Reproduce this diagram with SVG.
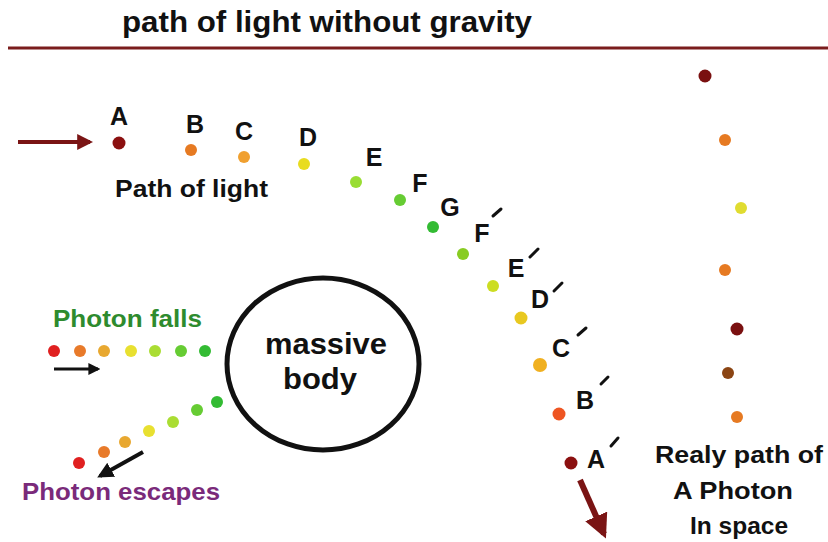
<svg xmlns="http://www.w3.org/2000/svg" width="828" height="542" viewBox="0 0 828 542">
<style>
text{font-family:"Liberation Sans",Arial,sans-serif;fill:#111}
.lbl{font-size:25px;font-weight:bold;text-anchor:middle}
.prime{stroke:#111;stroke-width:3;stroke-linecap:round}
.txt{font-size:24px;font-weight:bold}
.mid{text-anchor:middle}
</style>
<defs>
<marker id="hdR" viewBox="0 0 10 10" refX="8" refY="5" markerWidth="4" markerHeight="4" orient="auto"><path d="M0,0 L10,5 L0,10 z" fill="#7a1414"/></marker>
<marker id="hdK" viewBox="0 0 10 10" refX="8" refY="5" markerWidth="4" markerHeight="4" orient="auto"><path d="M0,0 L10,5 L0,10 z" fill="#111"/></marker>
</defs>
<rect width="828" height="542" fill="#fff"/>
<g id="title">
<text x="122" y="32" font-size="29" font-weight="bold" textLength="410" lengthAdjust="spacingAndGlyphs">path of light without gravity</text>
<line x1="8" y1="48" x2="828" y2="48" stroke="#7a1c1c" stroke-width="3"/>
</g>
<g id="connectors">
<line x1="18" y1="142" x2="90" y2="142" stroke="#7a1414" stroke-width="4" marker-end="url(#hdR)"/>
<line x1="580" y1="480" x2="604" y2="534" stroke="#7a1414" stroke-width="6" marker-end="url(#hdR)"/>
<line x1="54" y1="369" x2="98" y2="369" stroke="#111" stroke-width="3" marker-end="url(#hdK)"/>
<line x1="143" y1="452" x2="100" y2="476" stroke="#111" stroke-width="4" marker-end="url(#hdK)"/>
</g>
<g id="path-of-light">
<text class="txt" x="115" y="197" textLength="153" lengthAdjust="spacingAndGlyphs">Path of light</text>
<g id="pA"><circle cx="119" cy="143" r="6.5" fill="#8b1010"/><text class="lbl" x="119" y="125">A</text></g>
<g id="pB"><circle cx="191" cy="150" r="6" fill="#e67a22"/><text class="lbl" x="195" y="133">B</text></g>
<g id="pC"><circle cx="244" cy="157" r="6" fill="#f0a030"/><text class="lbl" x="244" y="140">C</text></g>
<g id="pD"><circle cx="304" cy="164" r="6" fill="#e8dc20"/><text class="lbl" x="308" y="146">D</text></g>
<g id="pE"><circle cx="356" cy="182" r="6" fill="#99dd33"/><text class="lbl" x="374" y="166">E</text></g>
<g id="pF"><circle cx="400" cy="200" r="6" fill="#66cc33"/><text class="lbl" x="420" y="192">F</text></g>
<g id="pG"><circle cx="433" cy="227" r="6" fill="#33bb33"/><text class="lbl" x="450" y="216">G</text></g>
<g id="pF2"><circle cx="463" cy="254" r="6" fill="#88cc22"/><text class="lbl" x="482" y="242">F</text><line class="prime" x1="493" y1="216" x2="501" y2="209"/></g>
<g id="pE2"><circle cx="493" cy="286" r="6" fill="#ccdd22"/><text class="lbl" x="516" y="277">E</text><line class="prime" x1="530" y1="257" x2="538" y2="249"/></g>
<g id="pD2"><circle cx="521" cy="318" r="6.5" fill="#e8c820"/><text class="lbl" x="540" y="308">D</text><line class="prime" x1="554" y1="291" x2="562" y2="283"/></g>
<g id="pC2"><circle cx="540" cy="365" r="7" fill="#f0b020"/><text class="lbl" x="561" y="357">C</text><line class="prime" x1="578" y1="335" x2="586" y2="328"/></g>
<g id="pB2"><circle cx="559" cy="414" r="6.5" fill="#ee5522"/><text class="lbl" x="585" y="409">B</text><line class="prime" x1="601" y1="384" x2="608" y2="377"/></g>
<g id="pA2"><circle cx="571" cy="463" r="6.5" fill="#8b1010"/><text class="lbl" x="596" y="468">A</text><line class="prime" x1="611" y1="446" x2="618" y2="438"/></g>
</g>
<g id="massive-body">
<ellipse cx="323" cy="364" rx="96" ry="86" fill="none" stroke="#111" stroke-width="5"/>
<text x="326" y="354" font-size="29" font-weight="bold" class="mid" textLength="122" lengthAdjust="spacingAndGlyphs">massive</text>
<text x="320" y="389" font-size="29" font-weight="bold" class="mid" textLength="74" lengthAdjust="spacingAndGlyphs">body</text>
</g>
<g id="photon-falls">
<text class="txt" x="53" y="327" style="fill:#2e8b2e" textLength="149" lengthAdjust="spacingAndGlyphs">Photon falls</text>
<circle cx="54" cy="351" r="6" fill="#e02020"/>
<circle cx="80" cy="351" r="6" fill="#e87a2a"/>
<circle cx="104" cy="351" r="6" fill="#e8a830"/>
<circle cx="131" cy="351" r="6" fill="#e8e030"/>
<circle cx="155" cy="351" r="6" fill="#aadd33"/>
<circle cx="181" cy="351" r="6" fill="#66cc33"/>
<circle cx="205" cy="351" r="6" fill="#33bb33"/>
</g>
<g id="photon-escapes">
<circle cx="79" cy="463" r="6" fill="#e02020"/>
<circle cx="104" cy="452" r="6" fill="#e87a2a"/>
<circle cx="125" cy="442" r="6" fill="#e8a830"/>
<circle cx="149" cy="431" r="6" fill="#e8e030"/>
<circle cx="173" cy="422" r="6" fill="#aadd33"/>
<circle cx="197" cy="410" r="6" fill="#66cc33"/>
<circle cx="217" cy="402" r="6" fill="#33bb33"/>
<text class="txt" x="22" y="500" style="fill:#7a2a7a" textLength="198" lengthAdjust="spacingAndGlyphs">Photon escapes</text>
</g>
<g id="real-path">
<circle cx="705" cy="76" r="6.5" fill="#7a1010"/>
<circle cx="725" cy="140" r="6" fill="#e67a22"/>
<circle cx="741" cy="208" r="6" fill="#e0dc30"/>
<circle cx="725" cy="270" r="6" fill="#e67a22"/>
<circle cx="737" cy="329" r="6.5" fill="#7a1010"/>
<circle cx="728" cy="373" r="6" fill="#8b4513"/>
<circle cx="737" cy="417" r="6" fill="#e67a22"/>
<text class="txt mid" x="739" y="463" textLength="168" lengthAdjust="spacingAndGlyphs">Realy path of</text>
<text class="txt mid" x="733" y="499" textLength="120" lengthAdjust="spacingAndGlyphs">A Photon</text>
<text class="txt mid" x="739" y="534" textLength="98" lengthAdjust="spacingAndGlyphs">In space</text>
</g>
</svg>
